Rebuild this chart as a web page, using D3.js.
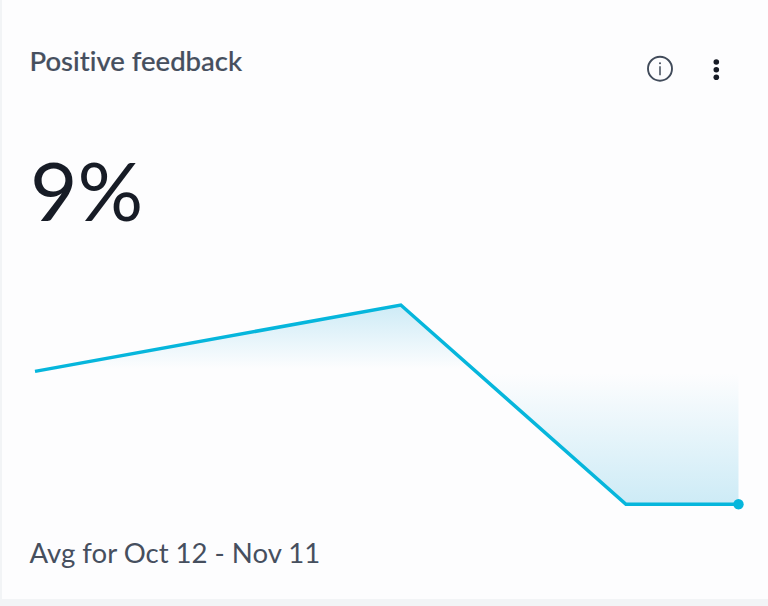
<!DOCTYPE html>
<html>
<head>
<meta charset="utf-8">
<style>
  html, body { margin: 0; padding: 0; background: #f2f4f6; }
  svg { display: block; }
  text { font-family: Lato, sans-serif; font-variant-ligatures: none; }
</style>
<script src="https://cdn.jsdelivr.net/npm/d3@7"></script>
</head>
<body>
<script>
// Daily position within the reporting window and the feedback share on that day
const dayOffsets = [0, 15.6, 25.2, 30];
const positiveShare = [9, 13.5, 0, 0];
const averageShare = 9;
const titleText = "Positive feedback";
const bigNumber = "9%";
const footerText = "Avg for Oct 12 - Nov 11";

const width = 768, height = 606;
const series = dayOffsets.map((d, i) => ({ day: d, value: positiveShare[i] }));

const x = d3.scaleLinear().domain([0, 30]).range([35, 738.5]);
const y = d3.scaleLinear().domain([0, 13.5]).range([504.2, 305]);

const svg = d3.select("body").append("svg")
  .attr("width", width).attr("height", height);

// Card surface, leaving the page colour visible at the left and bottom edges
svg.append("rect")
  .attr("x", 2).attr("y", 0)
  .attr("width", width - 2).attr("height", 599)
  .attr("fill", "#fdfdfe");

// Fill fades towards the average line from both directions
const baseY = y(averageShare);
const plotTop = y.range()[1], plotBottom = y.range()[0];
const baseOffset = (baseY - plotTop) / (plotBottom - plotTop);
const grad = svg.append("defs").append("linearGradient")
  .attr("id", "shareFill")
  .attr("gradientUnits", "userSpaceOnUse")
  .attr("x1", 0).attr("x2", 0)
  .attr("y1", plotTop).attr("y2", plotBottom);
grad.append("stop").attr("offset", 0).attr("stop-color", "#cdebf6");
grad.append("stop").attr("offset", baseOffset * 0.96).attr("stop-color", "#fdfdfe");
grad.append("stop").attr("offset", baseOffset * 1.03).attr("stop-color", "#fdfdfe");
grad.append("stop").attr("offset", 1).attr("stop-color", "#cdebf6");

svg.append("path")
  .datum(series)
  .attr("fill", "url(#shareFill)")
  .attr("d", d3.area().x(d => x(d.day)).y0(baseY).y1(d => y(d.value)));

svg.append("path")
  .datum(series)
  .attr("fill", "none")
  .attr("stroke", "#06b6dc")
  .attr("stroke-width", 3.5)
  .attr("d", d3.line().x(d => x(d.day)).y(d => y(d.value)));

const last = series[series.length - 1];
svg.append("circle")
  .attr("cx", x(last.day)).attr("cy", y(last.value)).attr("r", 5.2)
  .attr("fill", "#06b6dc");

// Card texts
svg.append("text")
  .attr("x", 29.5).attr("y", 71)
  .attr("font-size", 27.5).attr("font-weight", 500)
  .attr("stroke", "#464f5e").attr("stroke-width", 0.2)
  .attr("fill", "#464f5e")
  .text(titleText);

svg.append("text")
  .attr("x", 30).attr("y", 221)
  .attr("font-size", 82).attr("font-weight", 400)
  .attr("fill", "#171c26")
  .text(bigNumber);

svg.append("text")
  .attr("x", 29.5).attr("y", 563)
  .attr("font-size", 27.55)
  .attr("fill", "#464f5e")
  .text(footerText);

// Info icon
const info = svg.append("g").attr("transform", "translate(660,68.7)");
info.append("circle").attr("r", 12).attr("fill", "none")
  .attr("stroke", "#414b5a").attr("stroke-width", 1.9);
info.append("circle").attr("cy", -5.5).attr("r", 1).attr("fill", "#414b5a");
info.append("line").attr("y1", -2.5).attr("y2", 6.5)
  .attr("stroke", "#414b5a").attr("stroke-width", 1.5);

// Overflow menu dots
svg.append("g").selectAll("circle")
  .data([62, 69.7, 77.3])
  .join("circle")
  .attr("cx", 716.3).attr("cy", d => d).attr("r", 2.8)
  .attr("fill", "#171c26");
</script>
</body>
</html>
